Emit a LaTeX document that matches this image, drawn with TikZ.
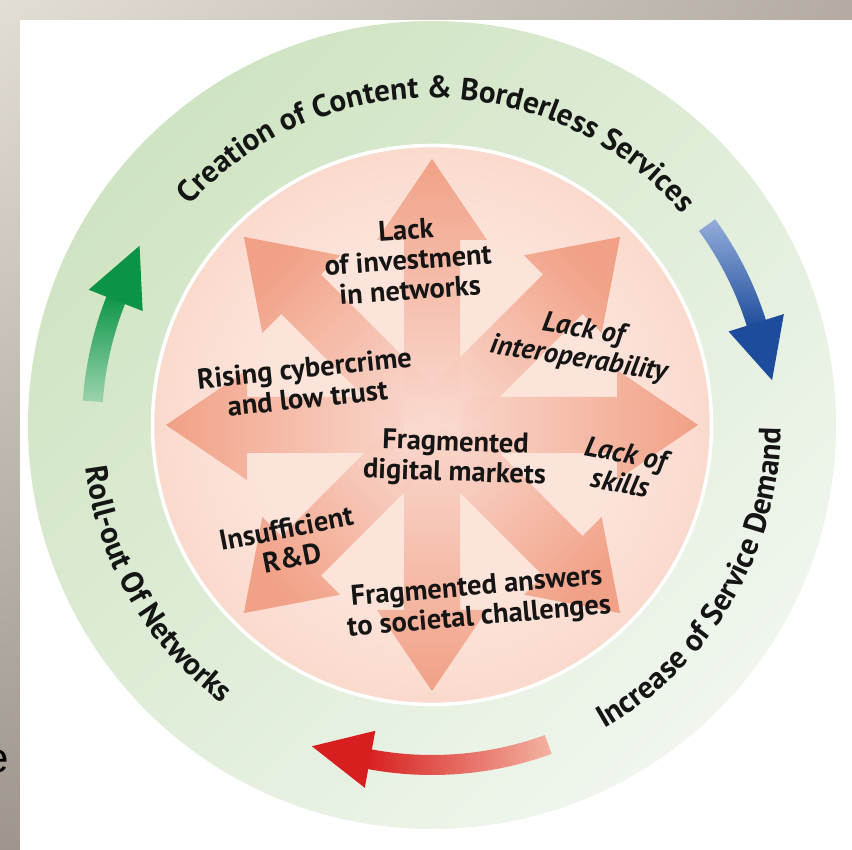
\documentclass[tikz,border=0pt]{standalone}
\usepackage{fontspec}
\setmainfont{PT Sans}
\newfontfamily\edgefont{Liberation Sans}
\usetikzlibrary{calc,decorations.text,shadings}
\definecolor{frameA}{HTML}{E3DED4}
\definecolor{frameB}{HTML}{B4ACA2}
\definecolor{frameC}{HTML}{9E968C}
\definecolor{ringA}{HTML}{CFE4C2}
\definecolor{ringB}{HTML}{F0F6EE}
\definecolor{diskIn}{HTML}{FCE4DB}
\definecolor{diskOut}{HTML}{F8BDA8}
\definecolor{arrowTip}{HTML}{F0977A}
\definecolor{arrowMid}{HTML}{F6B8A3}
\definecolor{arrowBase}{HTML}{FADAD0}
\definecolor{grnHead}{HTML}{0B9447}
\definecolor{grnTail}{HTML}{9CD3AE}
\definecolor{bluHead}{HTML}{1E4C9C}
\definecolor{bluTail}{HTML}{93ADDA}
\definecolor{redHead}{HTML}{D71F1F}
\definecolor{redTail}{HTML}{F3B3A2}
\definecolor{ink}{HTML}{151515}
\pgfdeclareradialshading{diskshade}{\pgfpoint{0bp}{0bp}}{color(0bp)=(diskIn); color(16bp)=(diskIn); color(50bp)=(diskOut)}
\newcommand{\ringfont}{\bfseries\fontsize{31}{31}\selectfont}
\newcommand{\blockarrow}[1]{%
  \shade[fill opacity=0.85, top color=arrowTip, middle color=arrowMid, bottom color=arrowBase, shading angle={#1-90}]
    ($(C)+(#1+90:28)$) -- ($(C)+(#1:185)+(#1+90:28)$) -- ($(C)+(#1:185)+(#1+90:55)$)
    -- ($(C)+(#1:266)$) -- ($(C)+(#1:185)+(#1-90:55)$) -- ($(C)+(#1:185)+(#1-90:28)$)
    -- ($(C)+(#1-90:28)$) -- cycle;}
\tikzset{
  inner/.style={font=\bfseries\fontsize{28.5}{30}\selectfont, text=ink, align=center, inner sep=0pt},
  ringtext/.style={decorate, decoration={text along path, text align=center, text color=ink, text={#1}}}
}
\begin{document}
\begin{tikzpicture}[x=1pt,y=1pt]
\useasboundingbox (0,0) rectangle (852,850);
% frame
\shade[upper left=frameA, upper right=frameB, lower left=frameC, lower right=frameC] (0,0) rectangle (852,850);
\fill[white] (20,0) rectangle (852,830);
\node[font=\edgefont\fontsize{42}{42}\selectfont, anchor=base east, inner sep=0pt] (edge) at (9,77) {e};
\coordinate (C) at (432,425);
% green ring
\shade[even odd rule, top color=ringA, bottom color=ringB, shading angle=45] (C) circle[radius=404] (C) circle[radius=281];
% inner disk
\shade[shading=diskshade] (C) circle[radius=278];
% block arrows
\foreach \a in {45,135,225,315,0,180,90,270} {\blockarrow{\a}}
\draw[white, line width=3.5] (C) circle[radius=279.5];
% green curved arrow
\shade[top color=grnHead, bottom color=grnTail] ([shift={(176:330)}]C) arc[start angle=176, end angle=158, radius=330] -- ([shift={(158:350)}]C) arc[start angle=158, end angle=176, radius=350] -- cycle;
\fill[grnHead] ([shift={(158.5:311)}]C) -- ([shift={(148.5:343)}]C) -- ([shift={(158.5:369)}]C) -- cycle;
% blue curved arrow
\shade[top color=bluTail, bottom color=bluHead] ([shift={(36:350)}]C) arc[start angle=36, end angle=17, radius=350] -- ([shift={(17:330)}]C) arc[start angle=17, end angle=36, radius=330] -- cycle;
\fill[bluHead] ([shift={(17.5:311)}]C) -- ([shift={(7.5:343)}]C) -- ([shift={(17.5:369)}]C) -- cycle;
% red curved arrow
\shade[left color=redHead, right color=redTail] ([shift={(-70:330)}]C) arc[start angle=-70, end angle=-101, radius=330] -- ([shift={(-101:350)}]C) arc[start angle=-101, end angle=-70, radius=350] -- cycle;
\fill[redHead] ([shift={(-100.5:311)}]C) -- ([shift={(-110.5:343)}]C) -- ([shift={(-100.5:369)}]C) -- cycle;
% ring texts
\path[ringtext={|\ringfont|Creation of Content {\&} Borderless Services}] ([shift={(145:327)}]C) arc[start angle=145, end angle=33, radius=327];
\path[ringtext={|\ringfont|Increase of Service Demand}] ([shift={(-70:349)}]C) arc[start angle=-70, end angle=9, radius=349];
\path[ringtext={|\ringfont|Roll-out Of Networks}] ([shift={(178:349)}]C) arc[start angle=178, end angle=242, radius=349];
% inner texts
\node[inner, rotate=4] (invest) at (408,590) {Lack\\of investment\\in networks};
\node[inner, rotate=-9] (interop) at (581,505) {\itshape Lack of\\\itshape interoperability};
\node[inner, rotate=6] (cyber) at (306,467) {Rising cybercrime\\and low trust};
\node[inner, rotate=-2] (markets) at (455,391) {Fragmented\\digital markets};
\node[inner, rotate=-11] (skills) at (623,382) {\itshape Lack of\\\itshape skills};
\node[inner, rotate=11] (rnd) at (289,307) {Insufficient\\R\&D};
\node[inner, rotate=5] (answers) at (478,247) {Fragmented answers\\to societal challenges};
\end{tikzpicture}
\end{document}
